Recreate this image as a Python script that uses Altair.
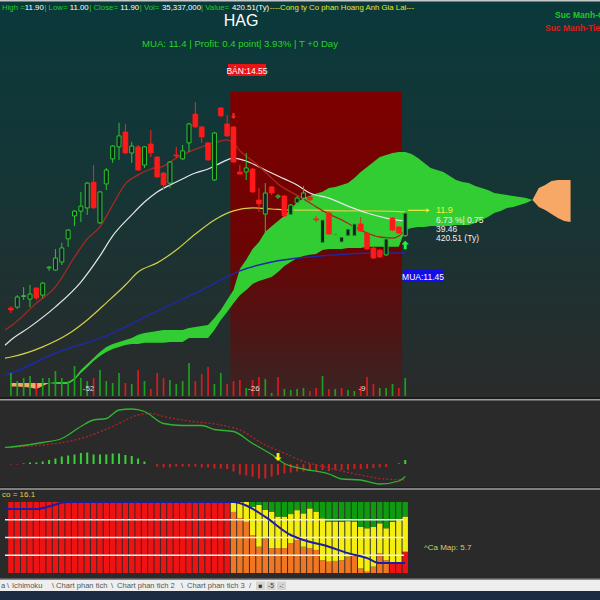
import altair as alt
import pandas as pd

FONT = "Liberation Sans"

# ---------------- daily candles, HAG ----------------
opens = [8.34, 8.37, 8.77, 8.67, 9.09, 8.82, 9.84, 9.76, 10.06, 10.93,
         11.79, 11.97, 12.09, 13.06, 11.53, 12.99, 13.93, 14.38, 14.94, 14.15,
         14.38, 13.70, 14.49, 14.00, 13.40, 13.02, 14.08, 13.93, 14.53, 15.61,
         15.13, 14.53, 13.14, 15.84, 15.24, 15.13, 13.44, 13.44, 13.55, 12.39,
         11.86, 12.88, 12.50, 12.54, 11.83, 12.28, 12.46, 12.50, 11.68, 10.78,
         11.90, 11.08, 10.81, 11.04, 11.04, 11.49, 11.15, 10.59, 10.51, 10.33,
         11.71, 11.38, 11.05]
highs = [8.41, 8.82, 9.12, 9.20, 9.12, 9.31, 9.91, 10.55, 10.78, 11.30,
         12.01, 12.69, 13.06, 13.70, 12.73, 13.59, 14.45, 15.28, 15.24, 14.56,
         14.45, 14.41, 15.01, 14.04, 13.44, 13.85, 14.38, 14.45, 15.28, 16.06,
         15.16, 14.56, 14.94, 15.87, 15.58, 15.16, 13.70, 14.15, 13.59, 12.84,
         13.02, 12.91, 12.61, 12.58, 12.24, 12.54, 12.91, 12.54, 11.79, 11.68,
         11.94, 11.15, 11.04, 11.34, 11.53, 11.75, 11.19, 10.63, 10.55, 10.96,
         11.75, 11.41, 11.90]
lows = [8.15, 8.30, 8.64, 8.37, 8.64, 8.71, 9.73, 9.73, 9.95, 10.63,
        11.41, 11.56, 11.83, 12.05, 11.49, 12.76, 13.78, 13.89, 14.11, 13.78,
        13.48, 13.59, 14.00, 13.21, 12.76, 12.84, 13.96, 13.89, 14.19, 15.09,
        14.53, 13.85, 13.10, 15.50, 14.75, 13.78, 13.33, 13.14, 12.65, 11.94,
        11.15, 12.58, 12.42, 11.75, 11.79, 12.20, 12.39, 12.35, 11.56, 10.74,
        11.08, 11.04, 10.78, 11.00, 11.00, 11.19, 10.51, 10.17, 10.21, 10.29,
        11.22, 11.11, 11.00]
closes = [8.26, 8.75, 8.80, 8.86, 8.71, 9.27, 9.87, 10.21, 10.59, 11.26,
          11.97, 12.16, 13.02, 12.09, 12.69, 13.51, 14.41, 14.79, 14.15, 14.41,
          13.51, 14.38, 14.15, 13.25, 12.95, 13.81, 14.04, 14.23, 15.24, 15.13,
          14.75, 13.89, 14.90, 15.54, 14.79, 13.81, 13.36, 13.59, 12.69, 12.24,
          12.65, 12.65, 12.54, 11.79, 12.20, 12.46, 12.65, 12.39, 11.64, 11.64,
          11.11, 11.11, 11.00, 11.30, 11.49, 11.22, 10.55, 10.21, 10.25, 10.93,
          11.26, 11.15, 11.90]

# volume, millions of shares
vol_m = [45.2, 29.4, 35.3, 39.3, 25.5, 35.3, 35.3, 49.1, 35.3, 29.4,
         58.9, 35.3, 29.4, 35.3, 51.0, 29.4, 25.5, 45.2, 25.5, 23.6,
         51.0, 29.4, 13.7, 45.2, 35.3, 31.4, 23.6, 29.4, 64.8, 29.4,
         43.2, 56.9, 23.6, 45.2, 23.6, 29.4, 31.4, 15.7, 31.4, 37.3,
         33.4, 5.9, 37.3, 13.7, 11.8, 13.7, 15.7, 9.8, 15.7, 39.3,
         13.7, 13.7, 15.7, 11.8, 9.8, 19.6, 37.3, 23.6, 15.7, 15.7,
         23.6, 15.7, 35.337]
vol_side = ["up", "up", "up", "up", "down", "up", "up", "up", "up", "up",
            "up", "up", "up", "down", "up", "up", "up", "up", "down", "up",
            "down", "up", "down", "down", "down", "up", "up", "up", "up", "down",
            "down", "down", "up", "up", "down", "down", "down", "up", "down", "down",
            "up", "up", "down", "up", "up", "up", "up", "down", "down", "up",
            "down", "up", "down", "up", "up", "down", "down", "down", "up", "up",
            "up", "down", "up"]
vol_marks = [10, 36, 53]
vol_mark_text = ["-52", "-26", "-9"]

# moving averages (the first point sits on the left edge of the view)
ma10_idx = [-0.93, 0, 4, 7, 10, 12, 14, 16, 18, 20, 22, 24, 26, 28, 30, 32, 34, 35, 36, 38,
            40, 42, 44, 46, 48, 50, 52, 54, 56, 58, 60, 61, 62]
ma10 = [7.51, 7.66, 8.52, 9.13, 10.25, 10.93, 11.38, 12.20, 12.99, 13.33, 13.55, 13.66, 13.96,
        14.19, 14.38, 14.53, 14.64, 14.53, 14.23, 13.85, 13.44, 12.99, 12.69, 12.43,
        12.13, 11.86, 11.64, 11.38, 11.15, 11.00, 10.96, 11.04, 11.26]
ma20_idx = [-0.93, 0, 3, 7, 11, 14, 16, 19, 21, 23, 26, 29, 31, 33, 35, 37, 39, 41, 43, 45,
            47, 50, 53, 56, 59, 62]
ma20 = [6.94, 7.14, 7.63, 8.38, 9.31, 10.29, 11.04, 11.83, 12.31, 12.69, 13.06, 13.40, 13.55,
        13.78, 13.96, 13.85, 13.63, 13.40, 13.18, 12.95, 12.65, 12.46, 12.16, 11.90,
        11.71, 11.60]
ma50_idx = [-0.93, 0, 5, 9, 12, 15, 18, 20, 23, 26, 29, 32, 35, 38, 41, 44, 48, 52, 56, 62]
ma50 = [6.46, 6.50, 6.88, 7.36, 7.89, 8.53, 9.20, 9.69, 10.03, 10.51, 11.11, 11.64, 11.98,
        12.09, 12.05, 12.01, 12.01, 11.98, 11.98, 11.94]
ma100_idx = [-0.93, 0, 7, 15, 22, 30, 36, 41, 47, 53, 58, 62]
ma100 = [5.84, 5.90, 6.65, 7.29, 8.11, 9.01, 9.73, 10.06, 10.25, 10.36, 10.40, 10.40]

# Ichimoku senkou spans, bars 0..88 (26 bars projected past the last session)
span_a = [5.39, 5.39, 5.375, 5.36, 5.30, 5.41, 5.525, 5.56, 5.56, 5.56,
          5.71, 6.01, 6.24, 6.46, 6.69, 6.875, 6.99, 7.06, 7.14, 7.21,
          7.33, 7.40, 7.44, 7.475, 7.51, 7.51, 7.51, 7.51, 7.59, 7.625,
          7.66, 7.70, 7.96, 8.26, 8.64, 9.01, 9.80, 10.15, 10.55, 10.81,
          11.20, 11.40, 11.60, 11.80, 12.05, 12.30, 12.45, 12.55, 12.63, 12.70,
          12.84, 12.875, 12.95, 13.025, 13.21, 13.44, 13.625, 13.81, 14.00, 14.075,
          14.15, 14.19, 14.19, 14.11, 13.96, 13.775, 13.59, 13.51, 13.44, 13.29,
          13.14, 13.06, 13.025, 12.91, 12.84, 12.76, 12.65, 12.61, 12.575, 12.54,
          12.50, 12.46, 12.39, 12.125, 12.01, 11.86, 11.71, 11.60, 11.56]
span_b = [5.525, 5.525, 5.525, 5.525, 5.525, 5.525, 5.525, 5.49, 5.49, 5.49,
          5.64, 5.90, 6.12, 6.35, 6.54, 6.69, 6.80, 6.875, 6.95, 6.99,
          6.99, 7.03, 7.03, 7.03, 7.03, 7.06, 7.06, 7.06, 7.21, 7.21,
          7.21, 7.21, 7.51, 7.89, 8.19, 8.52, 8.82, 9.01, 9.24, 9.35,
          9.425, 9.50, 9.69, 9.91, 10.06, 10.21, 10.29, 10.33, 10.36, 10.51,
          10.55, 10.55, 10.55, 10.59, 10.59, 10.59, 10.63, 10.63, 10.63, 10.63,
          10.63, 10.63, 11.26, 11.34, 11.375, 11.375, 11.41, 11.41, 11.41, 11.41,
          11.45, 11.45, 11.45, 11.525, 11.64, 11.75, 11.90, 11.975, 12.09, 12.125,
          12.20, 12.275, 12.39, 12.84, 12.95, 13.10, 13.14, 13.14, 13.14]

# MACD
macd_idx = [-0.93, 0, 5, 8, 11, 13, 15, 17, 19, 21, 24, 27, 30, 32, 35, 38, 41, 43, 46, 50,
            52, 55, 58, 61, 62]
macd_val = [0.33, 0.34, 0.43, 0.51, 0.75, 0.88, 0.91, 1.08, 1.10, 1.05, 0.81, 0.77, 0.77,
            0.69, 0.65, 0.41, 0.19, 0.01, -0.10, -0.20, -0.30, -0.32, -0.40, -0.34, -0.25]
sig_idx = [0, 2, 5, 11, 16, 20, 22, 24, 28, 33, 36, 40, 43, 46, 49, 55, 58, 62]
sig_val = [0.33, 0.35, 0.38, 0.51, 0.75, 0.98, 1.01, 0.95, 0.86, 0.78, 0.68, 0.38,
           0.22, 0.05, -0.05, -0.22, -0.29, -0.32]
macd_hist = [-0.01, -0.01, 0.01, 0.03, 0.03, 0.05, 0.08, 0.11, 0.15, 0.17,
             0.19, 0.22, 0.23, 0.19, 0.19, 0.19, 0.21, 0.21, 0.18, 0.16,
             0.11, 0.05, 0.0, -0.05, -0.07, -0.07, -0.05, -0.05, -0.05, -0.05,
             -0.07, -0.07, -0.09, -0.09, -0.10, -0.15, -0.21, -0.23, -0.25, -0.29,
             -0.29, -0.25, -0.22, -0.19, -0.17, -0.15, -0.15, -0.14, -0.14, -0.12,
             -0.14, -0.12, -0.12, -0.12, -0.10, -0.10, -0.09, -0.08, -0.07, -0.06,
             0.0, 0.01, 0.08]
macd_cross_idx, macd_cross_val = 42, 0.14

# money-flow map (% stacks per session)
flow_low = [100] * 35 + [86, 77.5, 72, 53.5, 37, 49, 35, 35, 35, 42, 46.5, 37, 35, 32.5,
                         18, 16, 17, 18, 23, 24.5, 6.5, 2, 9, 27.5, 18, 13.5, 13.5, 30]
flow_low_kind = ["red"] * 35 + ["orange"] * 25 + ["red"] * 3
flow_mid = [0] * 35 + [14, 22.5, 28, 40, 59, 40, 51.5, 44.5, 44.5, 41, 42, 47, 56, 54,
                       59, 56.5, 55.5, 54, 50, 48, 58.5, 61, 56, 42.5, 45, 58.5, 61, 49.5]
flow_top = [0] * 35 + [0, 0, 0, 6.5, 4, 11, 13.5, 20.5, 20.5, 17, 11.5, 16, 9, 13.5,
                       23, 27.5, 27.5, 28, 27, 27.5, 35, 37, 35, 30, 37, 28, 25.5, 20.5]
flow_line_idx = [-0.93, 4, 9, 35, 37, 40, 44, 46, 50, 53, 56, 58, 62]
flow_line = [90, 90, 100, 100, 95, 79, 53.5, 46.5, 37, 28, 21, 14, 14]
flow_levels = [25, 50, 75]

# trade signals
sell_idx, sell_price = 35, 14.55
buy_idx, buy_price = 62, 11.45
zone_top = 16.44

# ---------------- scales ----------------
x_scale = alt.Scale(domain=[-0.93, 91.84], range=[0, 600], nice=False, zero=False)
price_scale = alt.Scale(domain=[5.0, 17.6375], range=[397, 60], nice=False, zero=False)
vol_scale = alt.Scale(domain=[0, 90], range=[396, 350.2], nice=False, zero=False)
macd_scale = alt.Scale(domain=[-0.46, 1.26], range=[487, 401], nice=False, zero=False)
pct_scale = alt.Scale(domain=[0, 100], range=[573, 502], nice=False, zero=False)

ONE = pd.DataFrame({"k": [0]})


def X(field="idx"):
    return alt.X(f"{field}:Q", scale=x_scale, axis=None)


def Y(field, scale):
    return alt.Y(f"{field}:Q", scale=scale, axis=None)


def side_color(domain, rng):
    return alt.Color("side:N", scale=alt.Scale(domain=domain, range=rng), legend=None)


def rect(x0, x1, y0, y1, fill):
    return alt.Chart(ONE).mark_rect(fill=fill, strokeWidth=0).encode(
        x=alt.value(x0), x2=alt.value(x1), y=alt.value(y0), y2=alt.value(y1))


def label(s, x, y, color, size=8.5, weight="normal", align="left"):
    return alt.Chart(ONE).mark_text(
        align=align, baseline="middle", font=FONT, fontSize=size,
        fontWeight=weight, color=color).encode(
        x=alt.value(x), y=alt.value(y), text=alt.value(s))


def vgrad(stops):
    return {"gradient": "linear", "x1": 0, "x2": 0, "y1": 0, "y2": 1,
            "stops": [{"offset": o, "color": c} for o, c in stops]}


DOWN_ARROW = "M-0.35,-1L0.35,-1L0.35,0.1L0.9,0.1L0,1L-0.9,0.1L-0.35,0.1Z"
UP_ARROW = "M-0.35,1L0.35,1L0.35,-0.1L0.9,-0.1L0,-1L-0.9,-0.1L-0.35,-0.1Z"

# ---------------- frames ----------------
n = len(closes)
cdf = pd.DataFrame({"idx": range(n), "o": opens, "h": highs, "l": lows, "c": closes})
cdf["side"] = ["up" if c >= o else "down" for o, c in zip(opens, closes)]
up_df = cdf[cdf.side == "up"]
dn_df = cdf[cdf.side == "down"]

vdf = pd.DataFrame({"idx": range(n), "vol": vol_m, "side": vol_side})
vmark_df = pd.DataFrame({"idx": vol_marks, "t": vol_mark_text})

cloud = pd.DataFrame({"idx": range(len(span_a)), "a": span_a, "b": span_b})
cloud_green = cloud[(cloud.idx >= 6) & (cloud.idx <= 82)]
cloud_left = cloud[cloud.idx <= 6]
cloud_right = cloud[cloud.idx >= 82]

zone_df = pd.DataFrame({"x0": [sell_idx - 0.5], "x1": [buy_idx - 0.5],
                        "top": [zone_top], "bot": [5.0]})

hdf = pd.DataFrame({"idx": range(n), "h": macd_hist, "zero": 0.0})
hdf["side"] = ["up" if v >= 0 else "down" for v in macd_hist]

rows = []
for i in range(n):
    base = 0.0
    for kind, v in ((flow_low_kind[i], flow_low[i]), ("yellow", flow_mid[i]),
                    ("green", flow_top[i])):
        if v > 0:
            rows.append({"idx": i, "y0": base, "y1": base + v, "seg": kind})
            base += v
flow_df = pd.DataFrame(rows)
lvl_df = pd.DataFrame({"lvl": flow_levels, "x0": -0.93, "x1": 61.8})

layers = []

# panel backgrounds
layers.append(alt.Chart(ONE).mark_rect(
    fill=vgrad([(0, "#0a393b"), (0.5, "#173535"), (1, "#2a2b2b")])).encode(
    x=alt.value(0), x2=alt.value(600), y=alt.value(0), y2=alt.value(397)))
layers.append(rect(0, 600, 0, 1.5, "#c8c8c8"))
layers.append(rect(0, 600, 397, 399, "#1c1c1c"))
layers.append(rect(0, 600, 399, 400.5, "#9c9c9c"))
layers.append(rect(0, 600, 487, 488.3, "#1c1c1c"))
layers.append(rect(0, 600, 488.3, 489.8, "#9c9c9c"))

# holding zone between the sell and the buy signal
layers.append(alt.Chart(zone_df).mark_rect(
    fill=vgrad([(0, "#7e0000"), (0.5, "#6c0404"), (0.8, "#4c1616"), (1, "#3a2424")])).encode(
    x=X("x0"), x2="x1:Q", y=Y("top", price_scale), y2="bot:Q"))

# Ichimoku cloud
layers.append(alt.Chart(cloud_green).mark_area(color="#32cd32", opacity=1).encode(
    x=X(), y=Y("a", price_scale), y2="b:Q"))
for part in (cloud_left, cloud_right):
    layers.append(alt.Chart(part).mark_area(color="#f8a866", opacity=1).encode(
        x=X(), y=Y("a", price_scale), y2="b:Q"))

# moving averages
for idxs, vals, col, w in ((ma100_idx, ma100, "#1c2aa6", 1.5),
                           (ma50_idx, ma50, "#d2d044", 1.2),
                           (ma20_idx, ma20, "#e6e6e6", 1.2),
                           (ma10_idx, ma10, "#a62a22", 1.3)):
    d = pd.DataFrame({"idx": idxs, "v": vals})
    layers.append(alt.Chart(d).mark_line(color=col, strokeWidth=w, interpolate="monotone").encode(
        x=X(), y=Y("v", price_scale)))

# volume
layers.append(alt.Chart(vdf).mark_bar(size=1.7).encode(
    x=X(), y=Y("vol", vol_scale),
    color=side_color(["up", "down"], ["#1f9e1f", "#d81c1c"])))
layers.append(alt.Chart(vmark_df).mark_text(
    font=FONT, fontSize=8, color="#dcdcdc", dx=14, align="center", baseline="middle").encode(
    x=X(), y=alt.value(389), text="t:N"))

# candles
layers.append(alt.Chart(cdf).mark_rule(strokeWidth=1).encode(
    x=X(), y=Y("l", price_scale), y2="h:Q",
    color=side_color(["up", "down"], ["#2ec42e", "#ff2020"])))
layers.append(alt.Chart(up_df).mark_bar(size=4, fill="#0e2424", stroke="#2ec42e",
                                        strokeWidth=1).encode(
    x=X(), y=Y("o", price_scale), y2="c:Q"))
layers.append(alt.Chart(dn_df).mark_bar(size=5, fill="#ff1a1a", stroke="#ff1a1a",
                                        strokeWidth=0.6).encode(
    x=X(), y=Y("o", price_scale), y2="c:Q"))

# signal arrows
layers.append(alt.Chart(pd.DataFrame({"idx": [sell_idx], "p": [15.54]})).mark_point(
    shape=DOWN_ARROW, filled=True, size=36, color="#ff2424", opacity=1).encode(
    x=X(), y=Y("p", price_scale)))
layers.append(alt.Chart(pd.DataFrame({"idx": [buy_idx], "p": [10.70]})).mark_point(
    shape=UP_ARROW, filled=True, size=70, color="#28f048", opacity=1).encode(
    x=X(), y=Y("p", price_scale)))

# last-price pointer
ptr = pd.DataFrame({"x0": [62.4], "x1": [65.6], "p": [closes[-1] + 0.1]})
layers.append(alt.Chart(ptr).mark_rule(color="#e8e840", strokeWidth=1.2).encode(
    x=X("x0"), x2="x1:Q", y=Y("p", price_scale)))
layers.append(alt.Chart(ptr).mark_point(shape="triangle-right", filled=True, size=18,
                                        color="#e8e840", opacity=1).encode(
    x=X("x1"), y=Y("p", price_scale)))

chg = closes[-1] - closes[-2]
layers.append(label(f"{closes[-1]:.1f}", 436, 210, "#f0f040", 9))
layers.append(label(f"{chg / closes[-2] * 100:.2f} %| {chg:.2f}", 436, 219.5, "#f0f0f0"))
layers.append(label("39.46", 436, 228.5, "#f0f0f0"))
layers.append(label("420.51 (Ty)", 436, 237.5, "#f0f0f0"))

# signal boxes
layers.append(rect(228, 266, 64, 76, "#e81414"))
layers.append(label(f"BÁN:{sell_price:.2f}", 247, 70.5, "#ffffff", 8.5, align="center"))
layers.append(rect(403, 443, 270, 282, "#1010e6"))
layers.append(label(f"MUA:{buy_price:.2f}", 423, 276.5, "#ffffff", 8.5, align="center"))

# header line, pieces laid end to end
hdr = [("High =", 2, "#22cc22"), ("11.90", 24.8, "#ffffff"), (" | Low=", 44.4, "#22cc22"),
       ("11.00", 69.7, "#ffffff"), (" | Close=", 89.3, "#22cc22"), ("11.90", 120.2, "#ffffff"),
       (" | Vol=", 139.8, "#22cc22"), ("35,337,000", 162, "#ffffff"),
       (" | Value=", 201, "#22cc22"), ("420.51(Ty)", 231.9, "#ffffff"),
       ("----Cong ty Co phan Hoang Anh Gia Lai---", 269.7, "#e6e626")]
for s, x, col in hdr:
    layers.append(label(s, x, 7.5, col, 7.8))
layers.append(label("HAG", 241, 21, "#ffffff", 16, align="center"))
layers.append(label("MUA:  11.4 | Profit: 0.4 point| 3.93% | T +0 Day", 142, 43.5,
                    "#22d622", 9.6))
layers.append(label("Suc Manh-Cung", 555, 15, "#22c822", 8.5, "bold"))
layers.append(label("Suc Manh-Tien", 545, 27.5, "#e01818", 8.5, "bold"))

# MACD panel
layers.append(alt.Chart(hdf).mark_bar(size=2).encode(
    x=X(), y=Y("h", macd_scale), y2="zero:Q",
    color=side_color(["up", "down"], ["#36d236", "#cc2020"])))
layers.append(alt.Chart(pd.DataFrame({"idx": sig_idx, "v": sig_val})).mark_line(
    color="#b02424", strokeWidth=1.3, strokeDash=[2, 2], interpolate="monotone").encode(
    x=X(), y=Y("v", macd_scale)))
layers.append(alt.Chart(pd.DataFrame({"idx": macd_idx, "v": macd_val})).mark_line(
    color="#2fb52f", strokeWidth=1.3, interpolate="monotone").encode(
    x=X(), y=Y("v", macd_scale)))
layers.append(alt.Chart(pd.DataFrame({"idx": [macd_cross_idx], "v": [macd_cross_val]})).mark_point(
    shape=DOWN_ARROW, filled=True, size=64, color="#ffee00", opacity=1).encode(
    x=X(), y=Y("v", macd_scale)))

# money-flow panel
layers.append(alt.Chart(flow_df).mark_bar(size=5.4).encode(
    x=X(), y=Y("y0", pct_scale), y2="y1:Q",
    color=alt.Color("seg:N", scale=alt.Scale(domain=["red", "orange", "yellow", "green"],
                                             range=["#ee1212", "#f07622", "#f4ef10", "#109a10"]),
                    legend=None)))
layers.append(alt.Chart(lvl_df).mark_rule(color="#f2f2f2", strokeWidth=1.5).encode(
    x=X("x0"), x2="x1:Q", y=Y("lvl", pct_scale)))
layers.append(alt.Chart(pd.DataFrame({"idx": flow_line_idx, "v": flow_line})).mark_line(
    color="#1c1caa", strokeWidth=2, interpolate="monotone").encode(
    x=X(), y=Y("v", pct_scale)))
layers.append(label("co = 16.1", 2, 495, "#e2d24a", 8))
layers.append(label("^Ca Map: 5.7", 424, 548, "#d8cc6a", 8))

# sheet tabs
layers.append(rect(0, 600, 578.5, 580, "#8a8a8a"))
layers.append(rect(0, 600, 580, 591, "#eeeeee"))
layers.append(rect(0, 600, 591, 600, "#1c2b42"))
for s, x in (("a", 1), ("\\", 7), ("Ichimoku", 12), ("\\", 52), ("Chart phan tich", 56),
             ("\\", 111), ("Chart phan tich 2", 117), ("\\", 181), ("Chart phan tich 3", 187),
             ("/", 249)):
    layers.append(label(s, x, 586, "#555555", 7.6))
for x0 in (256, 266.5, 277):
    layers.append(rect(x0, x0 + 9, 581.5, 590, "#d4d4d4"))
for s, x in (("■", 260.5), ("-5", 271), ("-:", 281.5)):
    layers.append(label(s, x, 586, "#333333", 6.5, align="center"))

chart = alt.layer(*layers).resolve_scale(
    y="independent", color="independent"
).properties(
    width=600, height=600, padding=0,
    autosize=alt.AutoSizeParams(type="none"),
    background="#2a2a2a",
).configure_view(stroke=None)

chart.save("out.html", embed_options={"renderer": "svg", "actions": False})
